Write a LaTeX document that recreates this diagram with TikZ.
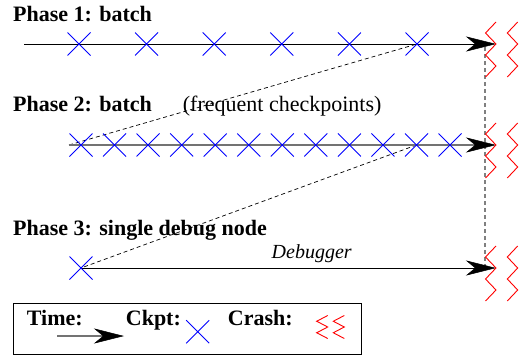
\documentclass[tikz,border=0pt]{standalone}
\usepackage{fontspec}
\setmainfont{Liberation Serif}
\usetikzlibrary{arrows.meta}
\begin{document}
\begin{tikzpicture}[x=1pt,y=-1pt,
  lbl/.style={anchor=base west, inner sep=0pt, font=\fontsize{22}{24}\selectfont\bfseries},
  note/.style={anchor=base west, inner sep=0pt, font=\fontsize{22}{24}\selectfont},
  timeline/.style={line width=0.8pt, -{Stealth[length=30pt, width=15pt, inset=9pt, color=black, line width=0.5pt]}},
  helper/.style={black, line width=0.7pt, dash pattern=on 4pt off 3pt},
  crashline/.style={gray, line width=1.2pt, dash pattern=on 4pt off 3pt},
  ckptx/.pic={\draw[blue, line width=0.9pt] (-11.5,-11.5) -- (11.5,11.5) (-11.5,11.5) -- (11.5,-11.5);},
  crashz/.pic={\draw[red, line width=0.9pt, line join=miter]
      (11,-22) -- (0.5,-11) -- (11,0) -- (0.5,11) -- (11,22) -- (0.5,33)
      (32.7,-22) -- (22.3,-11) -- (32.7,0) -- (22.3,11) -- (32.7,22) -- (22.3,33);},
  crashsmall/.pic={\draw[red, line width=0.9pt, line join=miter]
      (11,0) -- (0,5.75) -- (11,11.5) -- (0,17.25) -- (11,23)
      (27.6,0) -- (16.6,5.75) -- (27.6,11.5) -- (16.6,17.25) -- (27.6,23);}
]
\useasboundingbox (0,0) rectangle (522,356);

% labels
\node[lbl] (l1) at (13,21) {Phase 1: batch};
\node[lbl] (l2) at (13,111.5) {Phase 2: batch};
\node[note] (l2n) at (182.7,111.5) {(frequent checkpoints)};
\node[lbl] (l3) at (13,235.5) {Phase 3: single debug node};
\node[anchor=base, inner sep=0pt, font=\fontsize{20}{22}\selectfont\itshape] (dbg) at (311.7,258.3) {Debugger};

% coordinates
\coordinate (s1) at (24,44);   \coordinate (e1) at (496,44);
\coordinate (s2) at (69,145);  \coordinate (e2) at (496,145);
\coordinate (s3) at (81,268);  \coordinate (e3) at (496,268);
\foreach \i in {0,...,5} { \coordinate (p1c\i) at ({79+67.6*\i},44); }
\foreach \i in {0,...,11} { \coordinate (p2c\i) at ({81+33.55*\i},145); }
\coordinate (vtop) at (485,47); \coordinate (vbot) at (485,268);

% crash line
\draw[crashline] (vtop) -- (vbot);

% dashed helper lines
\draw[helper] (s2) -- (p1c5);
\draw[helper] (p2c10) -- (s3);

% timelines
\draw[timeline, black] (s1) -- (e1);
\draw[timeline, draw=black!55, line width=1.4pt] (s2) -- (e2);
\draw[timeline, black] (s3) -- (e3);

% checkpoints
\foreach \i in {0,...,5} { \pic at (p1c\i) {ckptx}; }
\foreach \i in {0,...,11} { \pic at (p2c\i) {ckptx}; }
\pic at (s3) {ckptx};

% crashes
\pic at (485,44) {crashz};
\pic at (485,145) {crashz};
\pic at (485,268) {crashz};

% legend
\node[draw, line width=1.2pt, minimum width=348pt, minimum height=51pt, anchor=north west, inner sep=0pt] (legend) at (12.5,302.5) {};
\node[lbl] (lt) at (26.7,325) {Time:};
\node[lbl] (lc) at (125.7,325) {Ckpt:};
\node[lbl] (lcr) at (227.7,325) {Crash:};
\coordinate (la) at (57,336); \coordinate (lb) at (124,336);
\draw[timeline, draw=black!55, line width=1.2pt] (la) -- (lb);
\pic at (197.7,331.7) {ckptx};
\pic at (316.7,315.5) {crashsmall};
\end{tikzpicture}
\end{document}
